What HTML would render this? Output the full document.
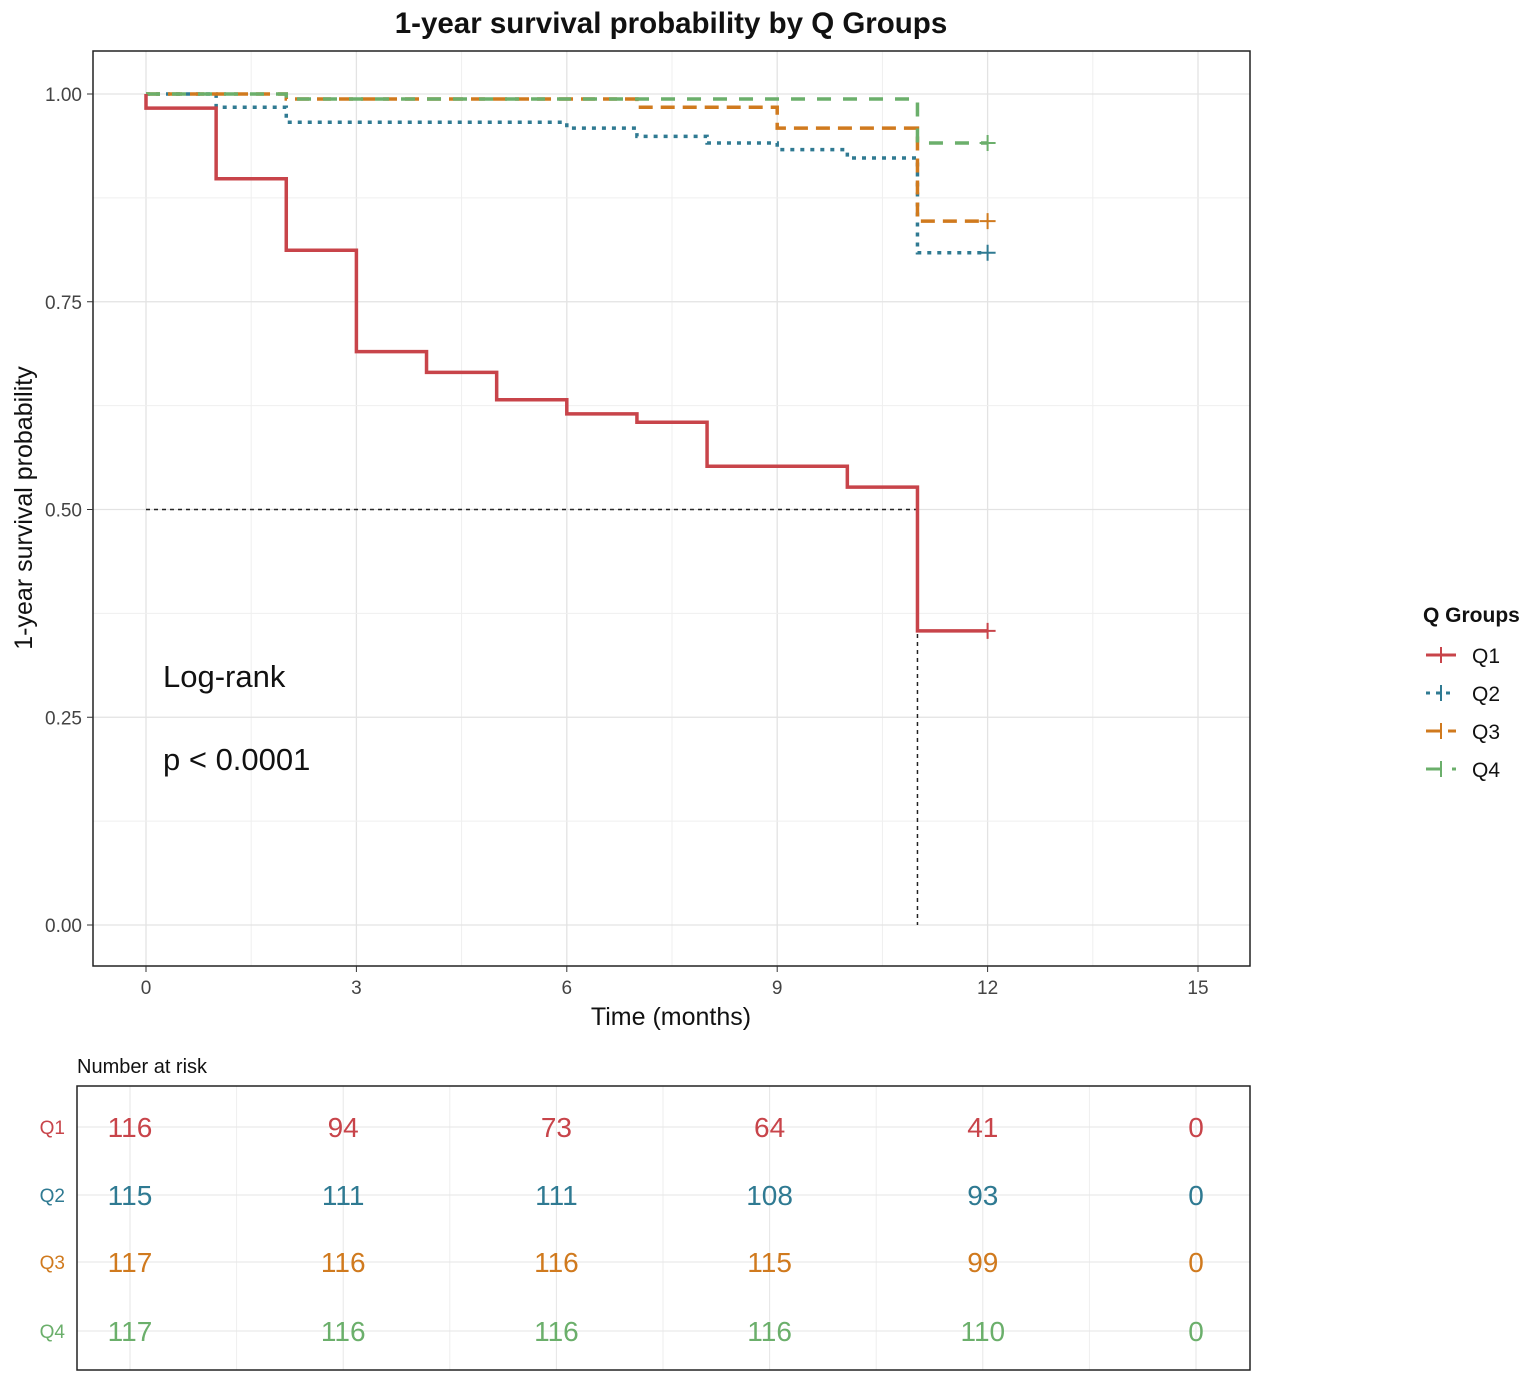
<!DOCTYPE html>
<html><head><meta charset="utf-8"><style>
body{margin:0;background:#fff;font-family:"Liberation Sans",sans-serif;}
</style></head><body>
<svg id="chart" width="1535" height="1382" xmlns="http://www.w3.org/2000/svg" font-family="Liberation Sans, sans-serif">
<text x="671" y="33" text-anchor="middle" font-size="29.5" font-weight="bold" fill="#111">1-year survival probability by Q Groups</text>
<g id="grid"></g>
<g id="series"></g>
<rect x="93" y="51" width="1157" height="915" fill="none" stroke="#222" stroke-width="1.5"/>
<g id="axes"></g>
<text x="671" y="1025" text-anchor="middle" font-size="25" fill="#111">Time (months)</text>
<text transform="translate(32,508) rotate(-90)" text-anchor="middle" font-size="25" fill="#111">1-year survival probability</text>
<text x="163" y="687" font-size="31" fill="#111">Log-rank</text>
<text x="163" y="770" font-size="31" fill="#111">p &lt; 0.0001</text>
<text x="1423" y="622" font-size="21" font-weight="bold" fill="#111">Q Groups</text>
<g id="legend"></g>
<text x="77" y="1073" font-size="20" fill="#111">Number at risk</text>
<g id="risk"></g>
<rect x="77" y="1086" width="1173" height="284" fill="none" stroke="#222" stroke-width="1.5"/>
</svg>
<script>
const groups=["Q1","Q2","Q3","Q4"];
const colors=["#C8444A","#2F7A92","#D07A1E","#6BAF6B"];
const dashes=["","4,6","14,8","14,12"];
const q1Times=[0,0,1,2,3,4,5,6,7,8,10,11];
const q1Surv=[1,0.983,0.898,0.812,0.69,0.665,0.632,0.615,0.605,0.552,0.527,0.354];
const q2Times=[0,1,2,6,7,8,9,10,11];
const q2Surv=[1,0.984,0.966,0.959,0.949,0.941,0.933,0.923,0.809];
const q3Times=[0,2,7,9,11];
const q3Surv=[1,0.994,0.984,0.959,0.847];
const q4Times=[0,2,11];
const q4Surv=[1,0.994,0.941];
const endTime=12;
const xTicks=[0,3,6,9,12,15];
const yTicks=[0,0.25,0.5,0.75,1.0];
const yTickLabels=["0.00","0.25","0.50","0.75","1.00"];
const riskTimes=[0,3,6,9,12,15];
const riskQ1=[116,94,73,64,41,0];
const riskQ2=[115,111,111,108,93,0];
const riskQ3=[117,116,116,115,99,0];
const riskQ4=[117,116,116,116,110,0];
const medianTime=11;

const NS="http://www.w3.org/2000/svg";
const sx=t=>146+t*(1198-146)/15;
const sy=p=>925-p*831;
const rx=t=>130+t*(1196-130)/15;
function mk(tag,attrs,parent){const e=document.createElementNS(NS,tag);for(const k in attrs)e.setAttribute(k,attrs[k]);parent.appendChild(e);return e;}
const grid=document.getElementById('grid'),axes=document.getElementById('axes'),series=document.getElementById('series'),legend=document.getElementById('legend'),risk=document.getElementById('risk');
for(let i=0;i<xTicks.length;i++){
 const t=xTicks[i];
 let l=mk('line',{x1:sx(t),x2:sx(t),y1:51,y2:966,stroke:'#e3e3e3','stroke-width':1.3},grid);
 
 if(i<xTicks.length-1){let m=mk('line',{x1:sx(t+1.5),x2:sx(t+1.5),y1:51,y2:966,stroke:'#efefef','stroke-width':1},grid);
 }
 let tk=mk('line',{x1:sx(t),x2:sx(t),y1:966,y2:972,stroke:'#333'},axes);
 
 let tx=mk('text',{x:sx(t),y:994,'text-anchor':'middle','font-size':19,fill:'#444'},axes);tx.textContent=t;
 
}
for(let i=0;i<yTicks.length;i++){
 const p=yTicks[i];
 let l=mk('line',{x1:93,x2:1250,y1:sy(p),y2:sy(p),stroke:'#e3e3e3','stroke-width':1.3},grid);
 
 if(i<yTicks.length-1){let m=mk('line',{x1:93,x2:1250,y1:sy(p+0.125),y2:sy(p+0.125),stroke:'#efefef'},grid);
 }
 let tk=mk('line',{x1:87,x2:93,y1:sy(p),y2:sy(p),stroke:'#333'},axes);
 
 let tx=mk('text',{x:82,y:sy(p)+7,'text-anchor':'end','font-size':19,fill:'#444'},axes);tx.textContent=yTickLabels[i];
 
}
let mh=mk('path',{d:`M${sx(0)},${sy(0.5)}H${sx(medianTime)}V${sy(0)}`,fill:'none',stroke:'#222','stroke-width':1.5,'stroke-dasharray':'4,4'},series);

const T=[q1Times,q2Times,q3Times,q4Times],S=[q1Surv,q2Surv,q3Surv,q4Surv];
const order=[1,2,3,0];
for(const g of order){
 let d=`M${sx(T[g][0])},${sy(S[g][0])}`;
 for(let i=1;i<T[g].length;i++){d+=`H${sx(T[g][i])}V${sy(S[g][i])}`;}
 d+=`H${sx(endTime)}`;
 let p=mk('path',{d,fill:'none',stroke:colors[g],'stroke-width':3.5,'stroke-dasharray':dashes[g]},series);
 
 const last=S[g][S[g].length-1];
 let c=mk('path',{d:`M${sx(endTime)-8},${sy(last)}H${sx(endTime)+8}M${sx(endTime)},${sy(last)-8}V${sy(last)+8}`,stroke:colors[g],'stroke-width':2},series);
 
}
for(let g=0;g<4;g++){
 const y=655+g*38;
 let l=mk('line',{x1:1426,x2:1456,y1:y,y2:y,stroke:colors[g],'stroke-width':3,'stroke-dasharray':dashes[g]},legend);
 
 let c=mk('line',{x1:1441,x2:1441,y1:y-8,y2:y+8,stroke:colors[g],'stroke-width':2},legend);
 
 let t=mk('text',{x:1472,y:y+8,'font-size':21,fill:'#111'},legend);t.textContent=groups[g];
 
}
const R=[riskQ1,riskQ2,riskQ3,riskQ4];
const rowY=[1127,1195,1262,1331];
for(let i=0;i<riskTimes.length;i++){
 let l=mk('line',{x1:rx(riskTimes[i]),x2:rx(riskTimes[i]),y1:1086,y2:1370,stroke:'#e6e6e6'},risk);
 
 if(i<riskTimes.length-1){let m=mk('line',{x1:rx(riskTimes[i]+1.5),x2:rx(riskTimes[i]+1.5),y1:1086,y2:1370,stroke:'#eeeeee'},risk);
 }
}
for(let g=0;g<4;g++){
 let l=mk('line',{x1:77,x2:1250,y1:rowY[g],y2:rowY[g],stroke:'#e6e6e6'},risk);
 
 let lab=mk('text',{x:65,y:rowY[g]+7,'text-anchor':'end','font-size':19,fill:colors[g]},risk);lab.textContent=groups[g];
 
 for(let i=0;i<riskTimes.length;i++){
  let t=mk('text',{x:rx(riskTimes[i]),y:rowY[g]+10,'text-anchor':'middle','font-size':28,fill:colors[g]},risk);t.textContent=R[g][i];
  
 }
}
</script>
</body></html>
